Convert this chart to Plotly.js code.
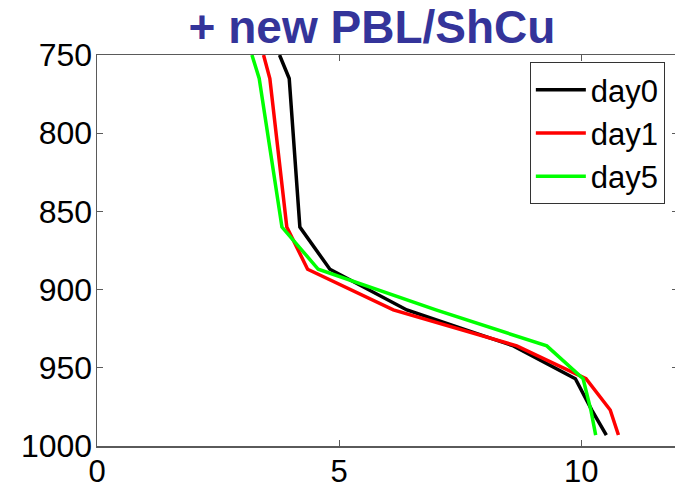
<!DOCTYPE html>
<html>
<head>
<meta charset="utf-8">
<script src="https://cdn.plot.ly/plotly-3.0.1.min.js"></script>
<style>
html,body{margin:0;padding:0;overflow:hidden;background:#fff;}
#chart{width:688px;height:488px;}
</style>
</head>
<body>
<div id="chart"></div>
<script>
// pressure levels (hPa)
const pressure = [750, 765, 860, 887, 913, 936, 957, 977, 993];
// series values
const day0 = [3.77, 3.97, 4.19, 4.81, 6.4, 8.6, 9.88, 10.22, 10.52];
const day1 = [3.44, 3.57, 3.92, 4.35, 6.12, 8.67, 10.1, 10.6, 10.77];
const day5 = [3.2, 3.35, 3.82, 4.57, 7.0, 9.29, 10.04, 10.2, 10.3];
const seriesNames = ["day0", "day1", "day5"];
const xTicks = [0, 5, 10];
const yTicks = [750, 800, 850, 900, 950, 1000];
const titleText = "+ new PBL/ShCu";

const colors = ["#000000", "#ff0000", "#00ff00"];
const allSeries = [day0, day1, day5];
const traces = allSeries.map((vals, i) => ({
  x: vals, y: pressure, type: "scatter", mode: "lines",
  name: seriesNames[i],
  line: {color: colors[i], width: 3.5}
}));

const axisCommon = {
  showline: true, linecolor: "#5a5a5a", linewidth: 1.5,
  mirror: "ticks", ticks: "inside", ticklen: 6, tickcolor: "#5a5a5a", tickwidth: 1,
  showgrid: false, zeroline: false
};

const layout = {
  width: 688, height: 488,
  margin: {l: 97, r: 10, t: 55, b: 42},
  paper_bgcolor: "#fff", plot_bgcolor: "#fff",
  title: {
    text: "<b>" + titleText + "</b>",
    font: {family: "Liberation Sans, Arial, sans-serif", size: 46, color: "#34349a"},
    x: 372/688, xref: "container", xanchor: "center",
    y: 1 - 27/488, yref: "container", yanchor: "middle"
  },
  xaxis: Object.assign({}, axisCommon, {
    range: [0, 12], tickvals: xTicks, ticktext: xTicks.map(String),
    ticklabelstandoff: -3,
    tickfont: {family: "Liberation Sans, Arial, sans-serif", size: 31, color: "#000"}
  }),
  yaxis: Object.assign({}, axisCommon, {
    range: [1000, 750], tickvals: yTicks, ticktext: yTicks.map(String),
    ticklabelstandoff: -3,
    tickfont: {family: "Liberation Sans, Arial, sans-serif", size: 32, color: "#000"}
  }),
  showlegend: true,
  legend: {
    x: 0.745, y: 0.982, xanchor: "left", yanchor: "top",
    bgcolor: "#fff", bordercolor: "#333", borderwidth: 1,
    itemwidth: 50,
    font: {family: "Liberation Sans, Arial, sans-serif", size: 31, color: "#000"},
    tracegroupgap: 0
  }
};

Plotly.newPlot("chart", traces, layout, {staticPlot: true, displayModeBar: false});
</script>
</body>
</html>
